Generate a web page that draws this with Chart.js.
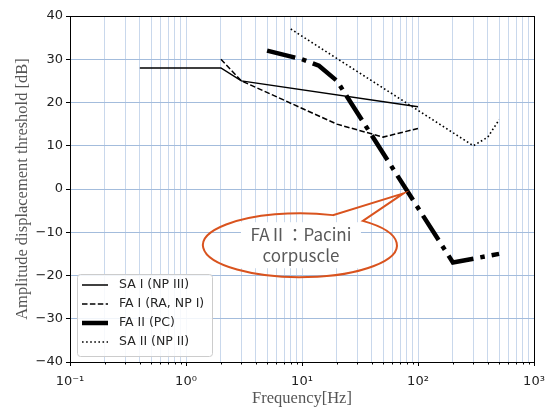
<!DOCTYPE html>
<html>
<head>
<meta charset="utf-8">
<script src="https://cdn.jsdelivr.net/npm/chart.js@4/dist/chart.umd.min.js"></script>
<style>
  html, body { margin: 0; padding: 0; background: #fff; }
  #wrap { width: 548px; height: 409px; }
</style>
</head>
<body>
<div id="wrap"><canvas id="c" width="548" height="409"></canvas></div>
<script>
// Vibrotactile threshold curves per mechanoreceptor type (log frequency vs dB).
const saIFreq = [0.4, 2, 3, 100];
const saIThr = [28, 28, 25, 19];
const faIFreq = [2, 3, 20, 50, 100];
const faIThr = [30, 25, 15, 12, 14];
const faIIFreq = [5, 10, 14, 20, 200, 500];
const faIIThr = [32, 30, 28.5, 25, -17, -15];
const saIIFreq = [8, 300, 400, 500];
const saIIThr = [37, 10, 12, 16];

const SERIES_LABELS = ["SA I (NP III)", "FA I (RA, NP I)", "FA II (PC)", "SA II (NP II)"];
const X_DECADES = [0.1, 1, 10, 100, 1000];
const X_DECADE_LABELS = ["10⁻¹", "10⁰", "10¹", "10²", "10³"];
const X_MINOR_MULT = [2, 3, 4, 5, 6, 7, 8, 9];
const CALLOUT_LINES = ["FAⅡ：Pacini", "corpuscle"];
const CALLOUT_TIP = { x: 75, y: -1 };
const CALLOUT_CENTER = { x: 9.6, y: -13 };

const pts = (xs, ys) => xs.map((x, i) => ({ x, y: ys[i] }));

const xTickValues = [];
X_DECADES.forEach((d, i) => {
  xTickValues.push(d);
  if (i < X_DECADES.length - 1) X_MINOR_MULT.forEach((m) => xTickValues.push(+(d * m).toPrecision(3)));
});

const styles = [
  { borderWidth: 1.5, borderDash: [] },
  { borderWidth: 1.5, borderDash: [5.5, 2.4] },
  { borderWidth: 4.5, borderDash: [29, 7, 4.5, 7] },
  { borderWidth: 1.6, borderDash: [1.6, 2.5] },
];
const series = [pts(saIFreq, saIThr), pts(faIFreq, faIThr), pts(faIIFreq, faIIThr), pts(saIIFreq, saIIThr)];

const decorations = {
  id: "decorations",
  afterDatasetsDraw(chart) {
    const { ctx, scales: { x, y } } = chart;
    const tx = x.getPixelForValue(CALLOUT_TIP.x), ty = y.getPixelForValue(CALLOUT_TIP.y);
    const cx = x.getPixelForValue(CALLOUT_CENTER.x), cy = y.getPixelForValue(CALLOUT_CENTER.y);
    const rx = 97, ry = 32;
    ctx.save();
    // text box first, then the outline on top
    ctx.fillStyle = "#fff";
    ctx.fillRect(cx - 59, cy - 23, 120, 46);
    ctx.strokeStyle = "#d9531e";
    ctx.lineWidth = 2;
    ctx.lineJoin = "miter";
    ctx.beginPath();
    ctx.moveTo(tx, ty);
    ctx.lineTo(cx + rx * Math.cos(-0.865), cy + ry * Math.sin(-0.865));
    ctx.ellipse(cx, cy, rx, ry, 0, -0.865, 2 * Math.PI - 1.224, false);
    ctx.closePath();
    ctx.stroke();
    ctx.fillStyle = "#595959";
    ctx.font = '17px "Noto Sans CJK JP", "Noto Sans", sans-serif';
    ctx.textAlign = "center";
    ctx.textBaseline = "middle";
    ctx.fillText(CALLOUT_LINES[0], cx + 1, cy - 11);
    ctx.fillText(CALLOUT_LINES[1], cx + 1, cy + 10);
    ctx.restore();
  },
  afterDraw(chart) {
    const { ctx, chartArea: a, scales: { x } } = chart;
    ctx.save();
    // spines
    ctx.strokeStyle = "#000";
    ctx.lineWidth = 1;
    ctx.strokeRect(Math.round(a.left) + 0.5, Math.round(a.top) + 0.5, Math.round(a.right - a.left), Math.round(a.bottom - a.top));
    // x tick marks, longer at decades
    x.ticks.forEach((t) => {
      const px = Math.round(x.getPixelForValue(t.value)) + 0.5;
      const len = X_DECADES.includes(t.value) ? 4 : 2.5;
      ctx.beginPath();
      ctx.moveTo(px, a.bottom);
      ctx.lineTo(px, a.bottom + len);
      ctx.stroke();
    });
    // legend box, lower left inside the plot
    const bx = a.left + 7, by = a.bottom - 88, bw = 135, bh = 82;
    ctx.fillStyle = "rgba(255,255,255,0.85)";
    ctx.strokeStyle = "#cccccc";
    ctx.beginPath();
    ctx.roundRect(bx + 0.5, by + 0.5, bw, bh, 3);
    ctx.fill();
    ctx.stroke();
    ctx.font = '12.5px "DejaVu Sans", sans-serif';
    ctx.textBaseline = "middle";
    chart.data.datasets.forEach((ds, i) => {
      const ry = by + 11 + i * 19;
      ctx.strokeStyle = "#000";
      ctx.lineWidth = ds.borderWidth;
      ctx.setLineDash(ds.borderDash);
      ctx.beginPath();
      ctx.moveTo(bx + 5, ry);
      ctx.lineTo(bx + 31, ry);
      ctx.stroke();
      ctx.setLineDash([]);
      ctx.fillStyle = "#262626";
      ctx.fillText(ds.label, bx + 42, ry);
    });
    ctx.restore();
  },
};

new Chart(document.getElementById("c"), {
  type: "line",
  data: {
    datasets: series.map((data, i) => ({
      label: SERIES_LABELS[i],
      data,
      borderColor: "#000",
      backgroundColor: "#000",
      borderWidth: styles[i].borderWidth,
      borderDash: styles[i].borderDash,
      borderCapStyle: "butt",
      pointRadius: 0,
      tension: 0,
      fill: false,
    })),
  },
  options: {
    responsive: false,
    animation: false,
    layout: { padding: { top: 16, right: 14, left: 0, bottom: 0 } },
    plugins: { legend: { display: false }, tooltip: { enabled: false } },
    scales: {
      x: {
        type: "logarithmic",
        min: 0.1,
        max: 1000,
        afterBuildTicks: (s) => { s.ticks = xTickValues.map((v) => ({ value: v })); },
        afterFit: (s) => { s.height = 47; s.paddingLeft = 0; s.paddingRight = 0; },
        ticks: {
          autoSkip: false,
          maxRotation: 0,
          padding: 8,
          color: "#222",
          font: { family: "DejaVu Sans", size: 13 },
          callback: (v) => {
            const i = X_DECADES.indexOf(v);
            return i >= 0 ? X_DECADE_LABELS[i] : "";
          },
        },
        grid: { color: "#c9d8ec", lineWidth: 1, tickLength: 4, tickColor: "rgba(0,0,0,0)" },
        border: { color: "#000", width: 1 },
        title: {
          display: true,
          text: "Frequency[Hz]",
          color: "#555",
          font: { family: "Liberation Serif", size: 16.5 },
          padding: { top: 0, bottom: 0 },
        },
      },
      y: {
        min: -40,
        max: 40,
        afterFit: (s) => { s.width = 70; s.paddingTop = 0; s.paddingBottom = 0; },
        ticks: {
          stepSize: 10,
          padding: 3,
          color: "#222",
          font: { family: "DejaVu Sans", size: 13 },
          callback: (v) => (v < 0 ? "−" + Math.abs(v) : String(v)),
        },
        grid: { color: "#a3bcdc", lineWidth: 1, tickLength: 4, tickColor: "#000" },
        border: { color: "#000", width: 1 },
        title: {
          display: true,
          text: "Amplitude displacement threshold [dB]",
          color: "#555",
          font: { family: "Liberation Serif", size: 16.5 },
          padding: { top: 13, bottom: 0 },
        },
      },
    },
  },
  plugins: [decorations],
});
</script>
</body>
</html>
